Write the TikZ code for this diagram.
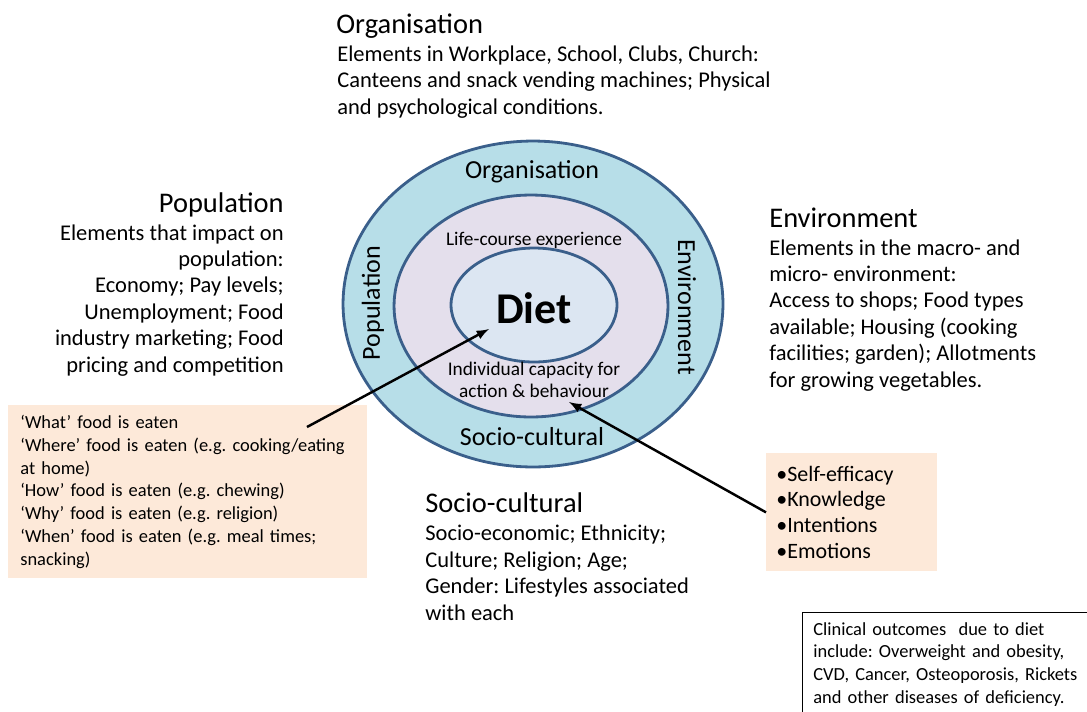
\documentclass[tikz,border=0pt]{standalone}
\usepackage{fontspec}
\setmainfont{Carlito}
\usepackage{xcolor}
\usepackage{tikz}
\usetikzlibrary{shapes.geometric}

\definecolor{ringblue}{HTML}{B7DEE8}
\definecolor{ringlilac}{HTML}{E4DFEC}
\definecolor{ringcore}{HTML}{DCE6F2}
\definecolor{ringedge}{HTML}{3A5F8B}
\definecolor{notepeach}{HTML}{FDE9D9}

\begin{document}
\frenchspacing
\begin{tikzpicture}[x=0.02cm, y=-0.02cm,
      ring/.style={ellipse, draw=ringedge, line width=1.6pt, inner sep=0pt},
      heading/.style={inner sep=0pt, font=\fontsize{16.2}{19.5}\selectfont},
      body/.style={inner sep=0pt, font=\fontsize{12.8}{15}\selectfont},
      ringlabel/.style={inner sep=0pt, font=\fontsize{14.8}{17}\selectfont},
      small/.style={inner sep=0pt, align=center, font=\fontsize{11}{12.6}\selectfont},
      note/.style={fill=notepeach, anchor=north west, align=left},
      pointer/.style={line width=1.4pt, -latex}]
      \useasboundingbox (0, 0) rectangle (1087, 711);
      \clip (0, 0) rectangle (1087, 711);
      % the three rings
      \node[ring, fill=ringblue, minimum width=7.6cm, minimum height=6.52cm] (outer) at (533, 304) {};
      \node[ring, fill=ringlilac, minimum width=5.48cm, minimum height=4.44cm] (middle) at (531, 306) {};
      \node[ring, fill=ringcore, minimum width=3.32cm, minimum height=2.28cm] (inner) at (534, 305) {};
      \node[ringlabel] (orglabel) at (532, 172) {Organisation};
      \node[ringlabel] (soclabel) at (532, 437) {Socio-cultural};
      \node[ringlabel, rotate=90] (poplabel) at (373, 303) {Population};
      \node[ringlabel, rotate=-90] (envlabel) at (687, 307) {Environment};
      \node[small] (lifelabel) at (534, 240) {Life-course experience};
      \node[small] (capacity) at (534, 380) {Individual capacity for\\action \& behaviour};
      \node[inner sep=0pt, font=\fontsize{25}{30}\selectfont\bfseries] (diet) at (534, 308) {Diet};
      % text blocks round the rings (base = last line)
      \node[heading, anchor=base west] (orghead) at (336, 33) {Organisation};
      \node[body, anchor=base west, align=left] (orgtext) at (337, 114)
      {Elements in Workplace, School, Clubs, Church:\\Canteens and snack vending machines; Physical\\and psychological conditions.};
      \node[heading, anchor=base east] (pophead) at (284, 212) {Population};
      \node[body, anchor=base east, align=right] (poptext) at (284, 372)
      {Elements that impact on\\population:\\Economy; Pay levels;\\Unemployment; Food\\industry marketing; Food\\pricing and competition};
      \node[heading, anchor=base west] (envhead) at (769, 227) {Environment};
      \node[body, anchor=base west, align=left] (envtext) at (769, 387)
      {Elements in the macro- and\\micro- environment:\\Access to shops; Food types\\available; Housing (cooking\\facilities; garden); Allotments\\for growing vegetables.};
      \node[heading, anchor=base west] (sochead) at (425, 512) {Socio-cultural};
      \node[body, anchor=base west, align=left] (soctext) at (425, 620)
      {Socio-economic; Ethnicity;\\Culture; Religion; Age;\\Gender: Lifestyles associated\\with each};
      % notes
      \node[note, minimum width=7.06cm, minimum height=3.46cm, text width=6.7cm, inner xsep=0.24cm,
        font=\fontsize{10.5}{13}\selectfont] (eating) at (8, 405)
      {`What' food is eaten\\`Where' food is eaten (e.g. cooking/eating\\at home)\\`How' food is eaten (e.g. chewing)\\`Why' food is eaten (e.g. religion)\\`When' food is eaten (e.g. meal times;\\snacking)};
      \node[note, minimum width=3.42cm, minimum height=2.36cm, text width=3.02cm, inner xsep=0.2cm,
        font=\fontsize{12.5}{14.7}\selectfont] (traits) at (766, 453)
      {\textbullet Self-efficacy\\\textbullet Knowledge\\\textbullet Intentions\\\textbullet Emotions};
      \node[draw, anchor=north west, align=left, text width=5.8cm, inner xsep=0.22cm, inner ysep=0.2cm,
        font=\fontsize{10.5}{12.9}\selectfont] (clinical) at (802, 612)
      {Clinical outcomes\ \ due to diet\\include: Overweight and obesity,\\CVD, Cancer, Osteoporosis, Rickets\\and other diseases of deficiency.};
      % arrows
      \coordinate (eatfrom) at (307, 427);
      \coordinate (dietpoint) at (489, 329);
      \coordinate (capacitypoint) at (569, 402);
      \draw[pointer] (eatfrom) -- (dietpoint);
      \draw[pointer] (traits.west) -- (capacitypoint);
    \end{tikzpicture}
\end{document}
